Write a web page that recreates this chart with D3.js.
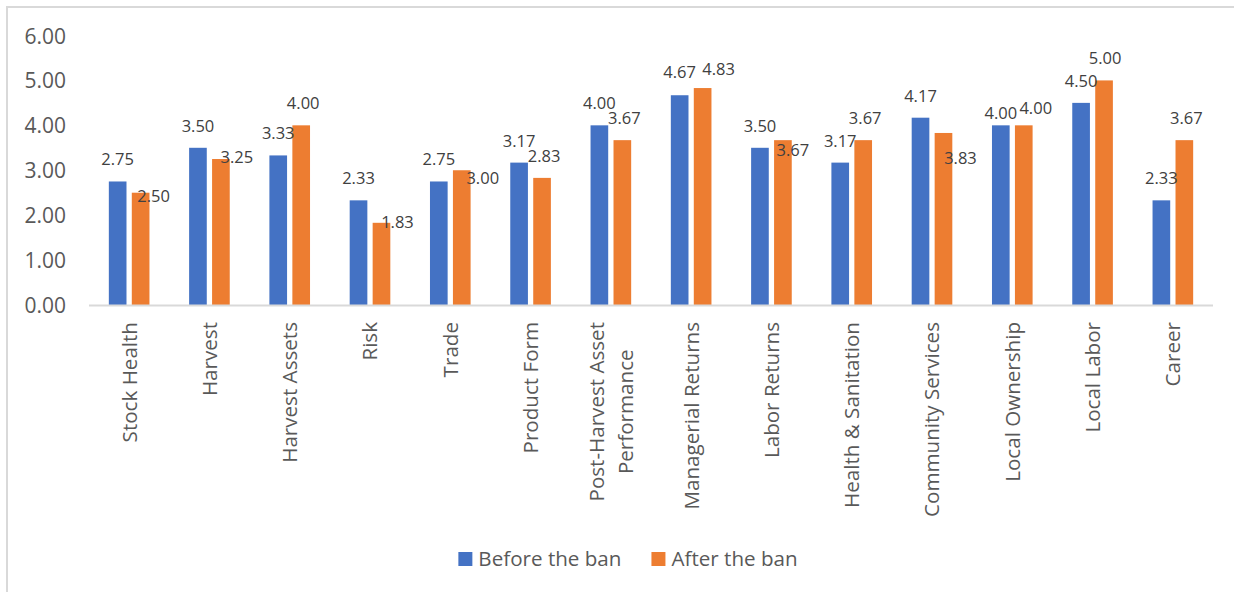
<!DOCTYPE html>
<html>
<head>
<meta charset="utf-8">
<script src="https://cdn.jsdelivr.net/npm/d3@7"></script>
<style>
  html, body { margin: 0; padding: 0; background: #ffffff; }
  svg { display: block; font-family: "Open Sans", "Noto Sans", sans-serif; }
</style>
</head>
<body>
<svg id="chart" width="1234" height="592"></svg>
<script>
// Indicator scores, before and after the ban
const categories = [
  "Stock Health", "Harvest", "Harvest Assets", "Risk", "Trade", "Product Form",
  "Post-Harvest Asset Performance", "Managerial Returns", "Labor Returns",
  "Health & Sanitation", "Community Services", "Local Ownership", "Local Labor", "Career"
];
const beforeBan = [2.75, 3.50, 3.33, 2.33, 2.75, 3.17, 4.00, 4.67, 3.50, 3.17, 4.17, 4.00, 4.50, 2.33];
const afterBan  = [2.50, 3.25, 4.00, 1.83, 3.00, 2.83, 3.67, 4.83, 3.67, 3.67, 3.83, 4.00, 5.00, 3.67];
const seriesNames = ["Before the ban", "After the ban"];
const yTicks = [0, 1, 2, 3, 4, 5, 6];

// Hand-placed data label nudges [dx, dy] relative to the default spot above each bar
const beforeLabelNudge = [[0,0],[0,0],[0,0],[0,0],[0,0],[0,0],[0,0],[0,-1],[0,0],[0,0],[0,0],[0,10],[0,0],[0,0]];
const afterLabelNudge  = [[13,25],[16,20],[2,0],[16,21],[21,30],[2,0],[2,0],[16,3],[10,32],[2,0],[17,47],[12,5],[1,0],[2,0]];

const colors = ["#4472C4", "#ED7D31"];
const series = [beforeBan, afterBan];
const nudges = [beforeLabelNudge, afterLabelNudge];

const svg = d3.select("#chart");

// Chart frame (only top and left edges fall inside the view)
svg.append("rect")
  .attr("x", 7).attr("y", 7)
  .attr("width", 1260).attr("height", 620)
  .attr("fill", "#ffffff")
  .attr("stroke", "#d9d9d9").attr("stroke-width", 2);

const plot = { left: 89, right: 1213, top: 35.5, bottom: 305 };

const x = d3.scaleBand()
  .domain(categories)
  .range([plot.left, plot.right])
  .paddingInner(0).paddingOuter(0);

const barW = x.bandwidth() * 0.22;
const barGap = x.bandwidth() * 0.066;
const groupOffset = (x.bandwidth() - (2 * barW + barGap)) / 2;

const y = d3.scaleLinear().domain([0, 6]).range([plot.bottom, plot.top]);

// Y axis tick labels (no axis line, no gridlines)
const yAxis = d3.axisLeft(y)
  .tickValues(yTicks)
  .tickFormat(d3.format(".2f"))
  .tickSize(0)
  .tickPadding(0);

const yAxisG = svg.append("g")
  .attr("transform", `translate(${66},0)`)
  .call(yAxis);
yAxisG.select(".domain").remove();
yAxisG.selectAll("text")
  .attr("fill", "#595959")
  .attr("font-size", "21px")
  .attr("font-family", "Open Sans, sans-serif")
  .attr("dy", "0.36em");

// Bars
series.forEach((vals, s) => {
  svg.append("g")
    .selectAll("rect")
    .data(vals)
    .join("rect")
    .attr("x", (d, i) => x(categories[i]) + groupOffset + s * (barW + barGap))
    .attr("y", d => y(d))
    .attr("width", barW)
    .attr("height", d => y(0) - y(d))
    .attr("fill", colors[s]);
});

// Category axis baseline
svg.append("line")
  .attr("x1", plot.left).attr("x2", plot.right)
  .attr("y1", y(0) + 0.5).attr("y2", y(0) + 0.5)
  .attr("stroke", "#d9d9d9").attr("stroke-width", 2);

// Data labels
series.forEach((vals, s) => {
  svg.append("g")
    .selectAll("text")
    .data(vals)
    .join("text")
    .attr("x", (d, i) => x(categories[i]) + groupOffset + s * (barW + barGap) + barW / 2 + nudges[s][i][0])
    .attr("y", (d, i) => y(d) - 22 + nudges[s][i][1])
    .attr("dy", "0.36em")
    .attr("text-anchor", "middle")
    .attr("font-size", "16.5px")
    .attr("fill", "#404040")
    .text(d => d3.format(".2f")(d));
});

// Rotated category labels with word wrapping
const labelTop = 322;
const wrapWidth = 230;
const lineStep = 29;
const catG = svg.append("g");

categories.forEach(name => {
  const cx = x(name) + x.bandwidth() / 2;
  const probe = catG.append("text")
    .attr("font-size", "20.6px");
  const measure = t => { probe.text(t); return probe.node().getComputedTextLength(); };
  const words = name.split(" ");
  const lines = [];
  let cur = "";
  words.forEach(w => {
    const trial = cur ? cur + " " + w : w;
    if (cur && measure(trial) > wrapWidth) { lines.push(cur); cur = w; }
    else cur = trial;
  });
  lines.push(cur);
  const maxLen = d3.max(lines, measure);
  probe.remove();

  const t = catG.append("text")
    .attr("transform", `translate(${cx},${labelTop + maxLen / 2}) rotate(-90)`)
    .attr("text-anchor", "middle")
    .attr("font-size", "20.6px")
    .attr("fill", "#595959");
  lines.forEach((ln, k) => {
    t.append("tspan")
      .attr("x", 0)
      .attr("y", (k - (lines.length - 1) / 2) * lineStep)
      .attr("dy", "0.36em")
      .text(ln);
  });
});

// Legend
const legendCenter = 628;
const legendY = 559;
const sw = 14, swGap = 6, itemGap = 30;
const legend = svg.append("g");
const items = seriesNames.map((n, i) => {
  const g = legend.append("g");
  g.append("rect")
    .attr("width", sw).attr("height", sw)
    .attr("y", legendY - sw / 2)
    .attr("fill", colors[i]);
  const tx = g.append("text")
    .attr("x", sw + swGap)
    .attr("y", legendY)
    .attr("dy", "0.36em")
    .attr("font-size", "20.6px")
    .attr("fill", "#595959")
    .text(n);
  return { g, w: sw + swGap + tx.node().getComputedTextLength() };
});
const total = d3.sum(items, d => d.w) + itemGap * (items.length - 1);
let cursor = legendCenter - total / 2;
items.forEach(it => {
  it.g.attr("transform", `translate(${cursor},0)`);
  cursor += it.w + itemGap;
});
</script>
</body>
</html>
